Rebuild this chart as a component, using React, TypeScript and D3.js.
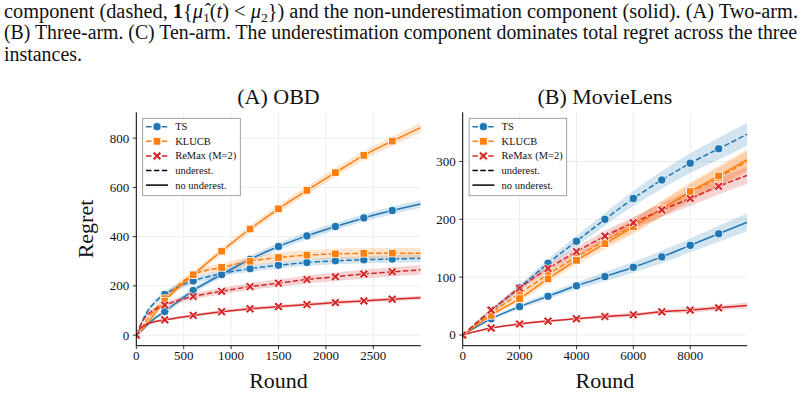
import React from 'react'
import * as d3 from 'd3'

// OBD (two-arm) regret, split into underestimation / non-underestimation parts
const obdRounds = [0, 50, 100, 200, 300, 600, 900, 1200, 1500, 1800, 2100, 2400, 2700, 3000]
const obdMarkRounds = [0, 300, 600, 900, 1200, 1500, 1800, 2100, 2400, 2700]
const obdTsUnder = [0, 45, 85, 135, 165, 220, 250, 270, 284, 295, 302, 306, 309, 312]
const obdTsNo = [0, 15, 35, 70, 96, 181, 246, 308, 360, 403, 441, 476, 506, 533]
const obdKlUnder = [0, 25, 55, 105, 148, 245, 275, 300, 315, 325, 330, 332, 333, 333]
const obdKlNo = [0, 15, 40, 90, 138, 245, 341, 431, 513, 588, 660, 730, 788, 843]
const obdRmUnder = [0, 45, 75, 105, 122, 157, 178, 197, 211, 226, 237, 248, 257, 265]
const obdRmNo = [0, 30, 43, 55, 62, 80, 95, 107, 116, 124, 132, 139, 146, 152]
// half-width of the shaded bands
const obdTsUnderSd = [0, 8, 10, 12, 12, 12, 12, 13, 13, 13, 14, 14, 15, 15]
const obdTsNoSd = [0, 4, 6, 8, 10, 12, 13, 14, 14, 15, 15, 15, 16, 16]
const obdKlUnderSd = [0, 5, 8, 10, 12, 14, 16, 18, 20, 20, 21, 22, 22, 22]
const obdKlNoSd = [0, 4, 6, 8, 10, 12, 14, 15, 16, 17, 18, 18, 19, 20]
const obdRmUnderSd = [0, 6, 8, 10, 11, 12, 13, 14, 15, 16, 17, 18, 19, 20]
const obdRmNoSd = [0, 3, 4, 5, 5, 6, 6, 7, 7, 7, 8, 8, 8, 8]

// MovieLens (three-arm)
const mlRounds = [0, 1000, 2000, 3000, 4000, 5000, 6000, 7000, 8000, 9000, 10000]
const mlMarkRounds = [0, 1000, 2000, 3000, 4000, 5000, 6000, 7000, 8000, 9000]
const mlTsUnder = [0, 42, 82, 124, 162, 200, 236, 268, 297, 322, 347]
const mlTsNo = [0, 28, 49, 67, 85, 101, 117, 135, 155, 175, 195]
const mlKlUnder = [0, 38, 72, 105, 135, 163, 190, 218, 246, 272, 300]
const mlKlNo = [0, 34, 63, 97, 129, 158, 187, 218, 248, 275, 303]
const mlRmUnder = [0, 43, 81, 115, 144, 171, 194, 216, 236, 257, 276]
const mlRmNo = [0, 12, 19, 24, 28, 32, 35, 40, 43, 47, 51]
const mlTsUnderSd = [0, 3, 5, 7, 9, 11, 13, 15, 17, 19, 20]
const mlTsNoSd = [0, 2, 4, 5, 6, 8, 9, 11, 12, 14, 15]
const mlKlUnderSd = [0, 3, 5, 7, 8, 10, 12, 13, 15, 17, 18]
const mlKlNoSd = [0, 3, 5, 7, 8, 10, 12, 14, 15, 17, 18]
const mlRmUnderSd = [0, 3, 5, 6, 8, 9, 10, 12, 13, 14, 15]
const mlRmNoSd = [0, 1, 2, 2, 2, 3, 3, 3, 4, 4, 5]

const obdXTicks = [0, 500, 1000, 1500, 2000, 2500]
const obdYTicks = [0, 200, 400, 600, 800]
const mlXTicks = [0, 2000, 4000, 6000, 8000]
const mlYTicks = [0, 100, 200, 300]

const methods = ['TS', 'KLUCB', 'ReMax (M=2)']
const colors = ['#1f77b4', '#ff7f0e', '#d62728']
const markers = ['circle', 'square', 'x']

const serif = 'Liberation Serif'
const DASH = '5.5,2.4'

type Series = { method: number; dashed: boolean; values: number[]; sd: number[] }

const obdSeries: Series[] = [
  { method: 0, dashed: true, values: obdTsUnder, sd: obdTsUnderSd },
  { method: 0, dashed: false, values: obdTsNo, sd: obdTsNoSd },
  { method: 1, dashed: true, values: obdKlUnder, sd: obdKlUnderSd },
  { method: 1, dashed: false, values: obdKlNo, sd: obdKlNoSd },
  { method: 2, dashed: true, values: obdRmUnder, sd: obdRmUnderSd },
  { method: 2, dashed: false, values: obdRmNo, sd: obdRmNoSd },
]
const mlSeries: Series[] = [
  { method: 0, dashed: true, values: mlTsUnder, sd: mlTsUnderSd },
  { method: 0, dashed: false, values: mlTsNo, sd: mlTsNoSd },
  { method: 1, dashed: true, values: mlKlUnder, sd: mlKlUnderSd },
  { method: 1, dashed: false, values: mlKlNo, sd: mlKlNoSd },
  { method: 2, dashed: true, values: mlRmUnder, sd: mlRmUnderSd },
  { method: 2, dashed: false, values: mlRmNo, sd: mlRmNoSd },
]

function Marker({ kind, x, y, color }: { kind: string; x: number; y: number; color: string }) {
  if (kind === 'circle')
    return <circle cx={x} cy={y} r={4.1} fill={color} stroke="#fff" strokeWidth={0.8} />
  if (kind === 'square')
    return <rect x={x - 3.8} y={y - 3.8} width={7.6} height={7.6} fill={color} stroke="#fff" strokeWidth={0.8} />
  // filled "X"
  const t = 1.35, L = 5
  const pts = [[-t, -L], [t, -L], [t, -t], [L, -t], [L, t], [t, t], [t, L], [-t, L], [-t, t], [-L, t], [-L, -t], [-t, -t]]
  return (
    <path
      d={'M' + pts.map(p => p.join(',')).join('L') + 'Z'}
      transform={`translate(${x},${y}) rotate(45)`}
      fill={color}
      stroke="#fff"
      strokeWidth={0.8}
    />
  )
}

function Legend({ x, y }: { x: number; y: number }) {
  const rows = [0, 1, 2, 3, 4]
  const step = 14.6
  return (
    <g transform={`translate(${x},${y})`}>
      <rect x={0} y={0} width={97.6} height={77.4} fill="#fff" fillOpacity={0.85} stroke="#8a8a8a" strokeWidth={0.8} />
      {rows.map(i => {
        const cy = 8.4 + i * step
        const isMethod = i < 3
        const color = isMethod ? colors[i] : '#000'
        const label = isMethod ? methods[i] : i === 3 ? 'underest.' : 'no underest.'
        return (
          <g key={i}>
            <line
              x1={3.3}
              x2={25.3}
              y1={cy}
              y2={cy}
              stroke={color}
              strokeWidth={1.5}
              strokeDasharray={i === 4 ? undefined : DASH}
            />
            {isMethod && <Marker kind={markers[i]} x={14.3} y={cy} color={color} />}
            <text x={32.5} y={cy + 3.6} fontFamily={serif} fontSize={10.5} fill="#111">
              {label}
            </text>
          </g>
        )
      })}
    </g>
  )
}

type PanelProps = {
  title: string
  left: number
  rounds: number[]
  markRounds: number[]
  series: Series[]
  xDomain: [number, number]
  yDomain: [number, number]
  xTicks: number[]
  yTicks: number[]
  yLabel?: boolean
  clipId: string
}

function Panel(p: PanelProps) {
  const top = 112.3, bottom = 345.7, width = 284.4
  const x = d3.scaleLinear().domain(p.xDomain).range([p.left, p.left + width])
  const y = d3.scaleLinear().domain(p.yDomain).range([bottom, top])
  const line = d3.line<number>().x((_, i) => x(p.rounds[i])).y(v => y(v)).curve(d3.curveMonotoneX)
  const area = (s: Series) =>
    d3.area<number>()
      .x((_, i) => x(p.rounds[i]))
      .y0((v, i) => y(v - s.sd[i]))
      .y1((v, i) => y(v + s.sd[i]))
      .curve(d3.curveMonotoneX)(s.values) as string
  const cx = p.left + width / 2

  return (
    <g>
      <defs>
        <clipPath id={p.clipId}>
          <rect x={p.left} y={top} width={width} height={bottom - top} />
        </clipPath>
      </defs>
      {/* grid */}
      {p.xTicks.map(t => (
        <line key={'gx' + t} x1={x(t)} x2={x(t)} y1={top} y2={bottom} stroke="#ebebeb" strokeWidth={0.9} />
      ))}
      {p.yTicks.map(t => (
        <line key={'gy' + t} x1={p.left} x2={p.left + width} y1={y(t)} y2={y(t)} stroke="#ebebeb" strokeWidth={0.9} />
      ))}
      <g clipPath={`url(#${p.clipId})`}>
        {p.series.map((s, i) => (
          <path key={'b' + i} d={area(s)} fill={colors[s.method]} fillOpacity={0.2} stroke="none" />
        ))}
        {p.series.map((s, i) => (
          <g key={'s' + i}>
            <path
              d={line(s.values) as string}
              fill="none"
              stroke={colors[s.method]}
              strokeWidth={1.5}
              strokeDasharray={s.dashed ? DASH : undefined}
            />
            {p.rounds.map((r, j) =>
              p.markRounds.includes(r) ? (
                <Marker key={j} kind={markers[s.method]} x={x(r)} y={y(s.values[j])} color={colors[s.method]} />
              ) : null
            )}
          </g>
        ))}
      </g>
      {/* spines */}
      <line x1={p.left} x2={p.left} y1={top} y2={bottom} stroke="#000" strokeWidth={1} />
      <line x1={p.left} x2={p.left + width} y1={bottom} y2={bottom} stroke="#000" strokeWidth={1} />
      {p.xTicks.map(t => (
        <g key={'tx' + t}>
          <line x1={x(t)} x2={x(t)} y1={bottom} y2={bottom + 3.5} stroke="#000" strokeWidth={0.8} />
          <text x={x(t)} y={360} textAnchor="middle" fontFamily={serif} fontSize={13} fill="#111">
            {t}
          </text>
        </g>
      ))}
      {p.yTicks.map(t => (
        <g key={'ty' + t}>
          <line x1={p.left - 3.5} x2={p.left} y1={y(t)} y2={y(t)} stroke="#000" strokeWidth={0.8} />
          <text x={p.left - 7} y={y(t) + 4.5} textAnchor="end" fontFamily={serif} fontSize={13} fill="#111">
            {t}
          </text>
        </g>
      ))}
      <text x={cx} y={103.5} textAnchor="middle" fontFamily={serif} fontSize={22} fill="#111">
        {p.title}
      </text>
      <text x={cx} y={388} textAnchor="middle" fontFamily={serif} fontSize={22} fill="#111">
        Round
      </text>
      {p.yLabel && (
        <text
          transform={`translate(93,${(top + bottom) / 2}) rotate(-90)`}
          textAnchor="middle"
          fontFamily={serif}
          fontSize={22}
          fill="#111"
        >
          Regret
        </text>
      )}
      <Legend x={p.left + 6.4} y={118.3} />
    </g>
  )
}

export default function App() {
  const cap = { fontFamily: serif, fontSize: 20, fill: '#111' }
  return (
    <svg width={807} height={395} style={{ position: 'absolute', left: 0, top: 0, background: '#fff' }}>
      <text x={4} y={17.5} {...cap} textLength={794} lengthAdjust="spacingAndGlyphs">
        component (dashed, <tspan fontWeight="bold">1</tspan>
        {'{'}
        <tspan fontStyle="italic">μ̂</tspan>
        <tspan fontSize={13.5} dy={4}>1</tspan>
        <tspan dy={-4}>(</tspan>
        <tspan fontStyle="italic">t</tspan>
        {') < '}
        <tspan fontStyle="italic">μ</tspan>
        <tspan fontSize={13.5} dy={4}>2</tspan>
        <tspan dy={-4}>{'})'} and the non-underestimation component (solid). (A) Two-arm.</tspan>
      </text>
      <text x={4} y={39} {...cap} textLength={793} lengthAdjust="spacingAndGlyphs">
        (B) Three-arm. (C) Ten-arm. The underestimation component dominates total regret across the three
      </text>
      <text x={4} y={60.5} {...cap} textLength={78} lengthAdjust="spacingAndGlyphs">
        instances.
      </text>
      <Panel
        title="(A) OBD"
        left={136.3}
        rounds={obdRounds}
        markRounds={obdMarkRounds}
        series={obdSeries}
        xDomain={[0, 3000]}
        yDomain={[-43, 905]}
        xTicks={obdXTicks}
        yTicks={obdYTicks}
        yLabel
        clipId="clipA"
      />
      <Panel
        title="(B) MovieLens"
        left={462.7}
        rounds={mlRounds}
        markRounds={mlMarkRounds}
        series={mlSeries}
        xDomain={[0, 10000]}
        yDomain={[-18.5, 385]}
        xTicks={mlXTicks}
        yTicks={mlYTicks}
        clipId="clipB"
      />
    </svg>
  )
}
